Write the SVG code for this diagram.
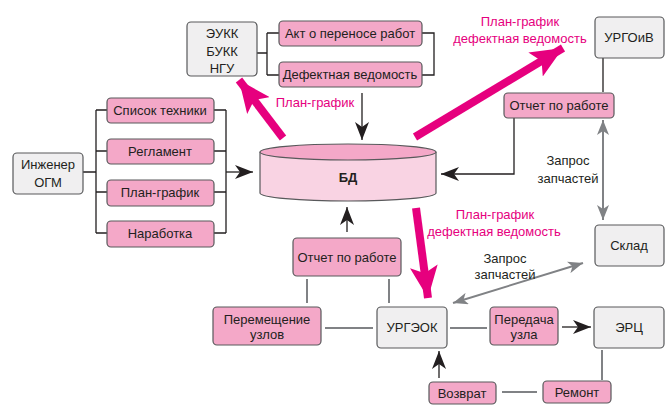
<svg xmlns="http://www.w3.org/2000/svg" width="671" height="413" viewBox="0 0 671 413">
<style>
text{font-family:"Liberation Sans",Arial,sans-serif;font-size:13px;fill:#231f20;text-anchor:middle;dominant-baseline:central}
.g{fill:#f0eff0;stroke:#58595b;stroke-width:1.2}
.p{fill:#f4a8c8;stroke:#58595b;stroke-width:1.2}
.k{stroke:#231f20;stroke-width:1.3;fill:none}
.gr{stroke:#808285;stroke-width:2;fill:none}
.big{stroke:#e6007e;stroke-width:8;fill:none}
.mt{fill:#e6007e}
</style>
<defs>
<marker id="ah" markerUnits="userSpaceOnUse" markerWidth="20" markerHeight="14" refX="18" refY="7" orient="auto"><path d="M0,0 L18,7 L0,14 L5,7z" fill="#231f20"/></marker>
<marker id="ag" markerUnits="userSpaceOnUse" markerWidth="16" markerHeight="12" refX="15" refY="6" orient="auto-start-reverse"><path d="M0,0 L15,6 L0,12 L4,6z" fill="#808285"/></marker>
<marker id="am" markerUnits="userSpaceOnUse" markerWidth="34" markerHeight="28" refX="32" refY="14" orient="auto"><path d="M0,0 L32,14 L0,28 L7,14z" fill="#e6007e"/></marker>
</defs>
<g id="connectors">
<path class="k" d="M257,53 H267 M267,33 V75 M267,33 H279 M267,75 H279 M422,33 H434 V75 H422"/>
<line class="k" x1="362" y1="93" x2="362" y2="140" marker-end="url(#ah)"/>
<path class="k" d="M83,172 H96 M96,110 V233 M96,110 H107 M96,151 H107 M96,192 H107 M96,233 H107 M214,110 H226 M214,151 H226 M214,192 H226 M214,233 H226 M226,110 V233"/>
<line class="k" x1="226" y1="172" x2="253" y2="172" marker-end="url(#ah)"/>
<line class="k" x1="603" y1="58" x2="603" y2="92"/>
<path class="k" d="M514,118 V174 H441" marker-end="url(#ah)"/>
<line class="gr" x1="603" y1="120" x2="603" y2="220" marker-start="url(#ag)" marker-end="url(#ag)"/>
<line class="gr" x1="453" y1="303" x2="583" y2="263" marker-start="url(#ag)" marker-end="url(#ag)"/>
<line class="k" x1="347" y1="232" x2="347" y2="207" marker-end="url(#ah)"/>
<path class="gr" d="M307,279 V303 M389,279 V303 M325,328 H373 M450,328 H487 M602,350 V380 M502,392 H537"/>
<line class="k" x1="562" y1="327" x2="591" y2="327" marker-end="url(#ah)"/>
<line class="k" x1="439" y1="378" x2="439" y2="351" marker-end="url(#ah)"/>
<line class="big" x1="283" y1="138" x2="239" y2="80" marker-end="url(#am)"/>
<line class="big" x1="415" y1="137" x2="563" y2="48" marker-end="url(#am)"/>
<line class="big" x1="416" y1="208" x2="428" y2="298" marker-end="url(#am)"/>
<text x="315" y="102" class="mt">План-график</text>
<text x="520" y="21" class="mt">План-график</text>
<text x="520" y="38" class="mt">дефектная ведомость</text>
<text x="495" y="214" class="mt">План-график</text>
<text x="494" y="231" class="mt">дефектная ведомость</text>
<text x="568" y="160">Запрос</text>
<text x="568" y="178">запчастей</text>
<text x="505" y="258">Запрос</text>
<text x="505" y="274">запчастей</text>
</g>
<g id="db">
<path d="M260,152 V193 A88,8 0 0 0 436,193 V152" fill="#f9d3e3" stroke="#58595b" stroke-width="1.2"/>
<ellipse cx="348" cy="152" rx="88" ry="8" class="p"/>
<text x="348" y="177" style="font-weight:bold">БД</text>
</g>
<g id="eukk"><rect x="187" y="22" width="70" height="54" rx="4" class="g"/><text x="222" y="33">ЭУКК</text><text x="222" y="51">БУКК</text><text x="222" y="68">НГУ</text></g>
<g id="akt"><rect x="279" y="21" width="143" height="25" rx="4" class="p"/><text x="350" y="33">Акт о переносе работ</text></g>
<g id="defect"><rect x="279" y="62" width="143" height="25" rx="4" class="p"/><text x="350" y="74">Дефектная ведомость</text></g>
<g id="ogm"><rect x="13" y="153" width="70" height="41" rx="4" class="g"/><text x="48" y="164">Инженер</text><text x="48" y="182">ОГМ</text></g>
<g id="spisok"><rect x="107" y="98" width="107" height="25" rx="4" class="p"/><text x="160" y="110">Список техники</text></g>
<g id="reglament"><rect x="107" y="139" width="107" height="25" rx="4" class="p"/><text x="160" y="151">Регламент</text></g>
<g id="plan"><rect x="107" y="180" width="107" height="26" rx="4" class="p"/><text x="160" y="192">План-график</text></g>
<g id="narabotka"><rect x="107" y="221" width="107" height="26" rx="4" class="p"/><text x="160" y="233">Наработка</text></g>
<g id="urgoiv"><rect x="595" y="17" width="69" height="41" rx="4" class="g"/><text x="629" y="37">УРГОиВ</text></g>
<g id="otchet1"><rect x="504" y="93" width="110" height="25" rx="4" class="p"/><text x="559" y="105">Отчет по работе</text></g>
<g id="sklad"><rect x="595" y="225" width="69" height="41" rx="4" class="g"/><text x="629" y="245">Склад</text></g>
<g id="otchet2"><rect x="293" y="238" width="108" height="38" rx="4" class="p"/><text x="347" y="257">Отчет по работе</text></g>
<g id="peremeshenie"><rect x="213" y="307" width="108" height="38" rx="4" class="p"/><text x="267" y="319">Перемещение</text><text x="267" y="334">узлов</text></g>
<g id="urgeok"><rect x="377" y="307" width="70" height="41" rx="4" class="g"/><text x="412" y="327">УРГЭОК</text></g>
<g id="peredacha"><rect x="490" y="307" width="68" height="38" rx="4" class="p"/><text x="524" y="319">Передача</text><text x="524" y="334">узла</text></g>
<g id="erc"><rect x="594" y="307" width="70" height="41" rx="4" class="g"/><text x="629" y="327">ЭРЦ</text></g>
<g id="vozvrat"><rect x="429" y="382" width="67" height="22" rx="4" class="p"/><text x="462" y="393">Возврат</text></g>
<g id="remont"><rect x="543" y="381" width="68" height="22" rx="4" class="p"/><text x="577" y="392">Ремонт</text></g>
</svg>
